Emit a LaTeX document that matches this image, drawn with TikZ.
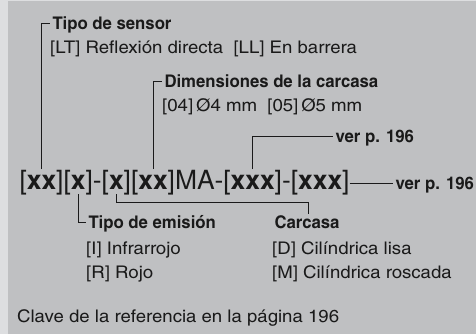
\documentclass[tikz,border=0pt]{standalone}
\usepackage{fontspec}
\setmainfont{TeX Gyre Heros}
\newfontfamily\cnfont{texgyreheroscn}[Extension=.otf, UprightFont=*-regular, BoldFont=*-bold, FakeStretch=1.3]
\newfontfamily\cnbold{texgyreheroscn}[Extension=.otf, UprightFont=*-bold, FakeStretch=1.17]
\usetikzlibrary{positioning}
\definecolor{PanelGray}{RGB}{191,192,194}
\definecolor{StripGray}{RGB}{221,222,224}
\definecolor{InkBlack}{RGB}{26,26,26}

\tikzset{
	code/.style={inner sep=0pt, outer sep=0pt, anchor=base west, text height=20bp, text depth=5bp, text=InkBlack, font=\fontsize{26.5}{30}\selectfont},
	lbl/.style={inner sep=0pt, outer sep=2.5bp, anchor=base west, text height=12bp, text depth=1bp, text=InkBlack, font=\cnbold\fontsize{17.5}{20}\selectfont},
	opt/.style={inner sep=0pt, anchor=base west, text=InkBlack, font=\cnfont\fontsize{17.5}{20}\selectfont},
	conn/.style={line width=0.8bp, InkBlack}
}

\begin{document}
\begin{tikzpicture}[x=1bp, y=-1bp]
		% fondo
		\fill[PanelGray] (0,0) rectangle (476,334);
		\fill[StripGray] (0,0) rectangle (8,334);
		\fill[StripGray] (0,0) rectangle (476,1);
		\useasboundingbox (0,0) rectangle (476,334);
		% clave
		\node[code] (k0) at (19.5,189) {[};
		\node[code] (tsens) at (k0.base east) {\bfseries xx};
		\node[code] (k1) at (tsens.base east) {][};
		\node[code] (temis) at (k1.base east) {\bfseries x};
		\node[code] (k2) at (temis.base east) {]-[};
		\node[code] (tcase) at (k2.base east) {\bfseries x};
		\node[code] (k3) at (tcase.base east) {][};
		\node[code] (tdim) at (k3.base east) {\bfseries xx};
		\node[code] (k4) at (tdim.base east) {]MA-[};
		\node[code] (tver) at (k4.base east) {\bfseries xxx};
		\node[code] (k5) at (tver.base east) {]-[};
		\node[code] (tref) at (k5.base east) {\bfseries xxx};
		\node[code] (k6) at (tref.base east) {]};
		% arriba
		\node[lbl] (sensor) at (50,29) {Tipo de sensor};
		\node[opt] (sensoropt) at (50,53) {[LT] Reflexión directa\ \ [LL] En barrera};
		\node[lbl] (dim) at (162,87) {Dimensiones de la carcasa};
		\node[opt] (dimopt) at (162,111) {[04]\,Ø4 mm\ \ [05]\,Ø5 mm};
		\node[lbl] (verup) at (333,142) {ver p. 196};
		\node[lbl] (verright) at (393,189) {ver p. 196};
		% abajo
		\node[lbl] (emis) at (86,228) {Tipo de emisión};
		\node[opt] (emisopt1) at (86,254) {[I] Infrarrojo};
		\node[opt] (emisopt2) at (86,278) {[R] Rojo};
		\node[lbl] (carc) at (272,228) {Carcasa};
		\node[opt] (carcopt1) at (272,254) {[D] Cilíndrica lisa};
		\node[opt] (carcopt2) at (272,278) {[M] Cilíndrica roscada};
		\node[opt] (clave) at (17,322) {Clave de la referencia en la página 196};
		% lineas
		\coordinate (cbend) at (308,202);
		\draw[conn] (tsens.north) |- (sensor.west);
		\draw[conn] (tdim.north) |- (dim.west);
		\draw[conn] (tver.north) |- (verup.west);
		\draw[conn] (k6.east |- verright.west) -- (verright.west);
		\draw[conn] (temis.south) |- (emis.west);
		\draw[conn] (tcase.south) |- (cbend) -- (cbend |- carc.north);
	\end{tikzpicture}
\end{document}
